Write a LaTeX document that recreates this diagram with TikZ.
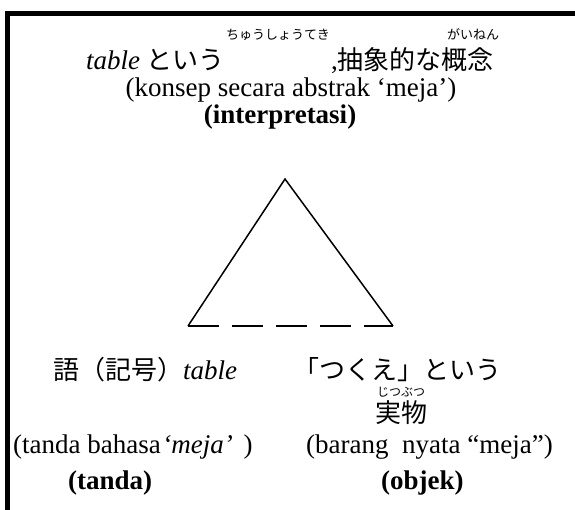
\documentclass[tikz,border=0pt]{standalone}
\usepackage{fontspec}
\setmainfont{Liberation Serif}
\newfontfamily\jpfont{Noto Sans CJK JP}
\newcommand\jtext[1]{{\jpfont\fontsize{26}{30}\selectfont #1}}
\tikzset{
  lat/.style={inner sep=0pt, font=\fontsize{27}{30}\selectfont},
  rubytop/.style={inner sep=0pt, font=\jpfont\fontsize{13}{15}\selectfont},
  rubybot/.style={inner sep=0pt, font=\jpfont\fontsize{12}{14}\selectfont},
  frameline/.style={line width=5pt},
  triline/.style={line width=1.5pt},
}
\begin{document}
\begin{tikzpicture}[x=1pt,y=-1pt]
\useasboundingbox (0,0) rectangle (575,510);
\draw[frameline] (7.5,520) -- (7.5,13.5) -- (585,13.5);
% top
\node[lat, anchor=base west] (l1a) at (86,70) {\textit{table} \jtext{という}};
\node[lat, anchor=base west] (l1b) at (331,70) {,\jtext{抽象的な概念}};
\node[rubytop, anchor=base] (r1) at (278,40) {ちゅうしょうてき};
\node[rubytop, anchor=base] (r2) at (473,40) {がいねん};
\node[lat, anchor=base] (l2) at (291,97) {(konsep secara abstrak ‘meja’)};
\node[lat, anchor=base] (l3) at (280,124) {\textbf{(interpretasi)}};
% triangle
\coordinate (apex) at (285,179);
\coordinate (bl) at (188,326);
\coordinate (br) at (393,326);
\draw[triline] (bl) -- (apex) -- (br);
\draw[triline, dash pattern=on 31pt off 13pt] (bl) -- (br);
% bottom
\node[lat, anchor=base west] (b1) at (53,379) {\jtext{語（記号）}\textit{table}};
\node[lat, anchor=base west] (b2) at (293,379) {\jtext{「つくえ」という}};
\node[rubybot, anchor=base] (r3) at (401,396) {じつぶつ};
\node[lat, anchor=base] (b3) at (401,422) {\jtext{実物}};
\node[lat, anchor=base west] (b4) at (13,453) {(tanda bahasa\kern1.5pt\textit{‘meja’}\kern4pt\ )};
\node[lat, anchor=base west] (b5) at (306,453) {(barang\ \ nyata “meja”)};
\node[lat, anchor=base west] (b6) at (68,489) {\textbf{(tanda)}};
\node[lat, anchor=base west] (b7) at (381,489) {\textbf{(objek)}};
\end{tikzpicture}
\end{document}
